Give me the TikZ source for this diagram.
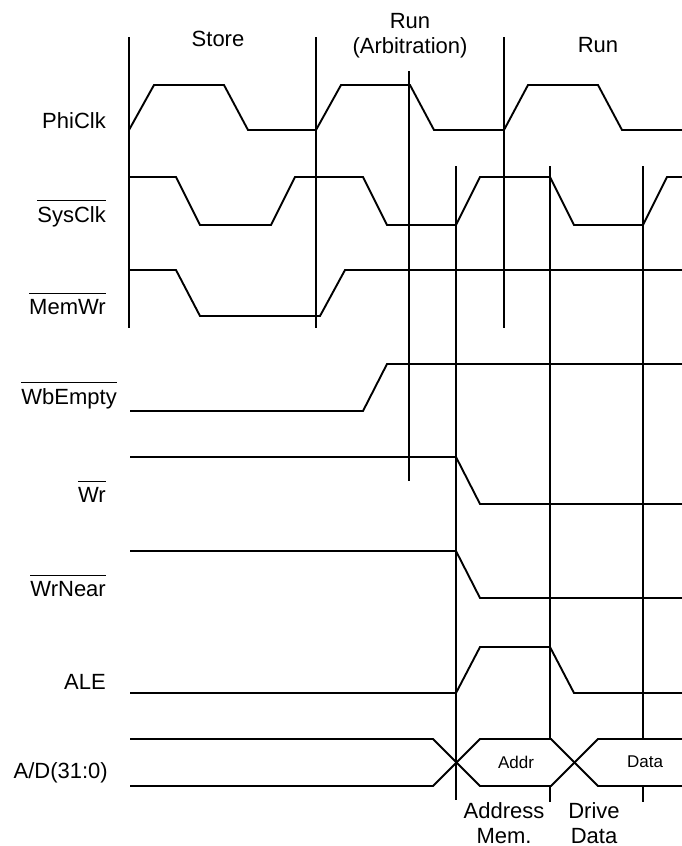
\documentclass[tikz,border=0pt]{standalone}
\usepackage{fontspec}
\setmainfont{Liberation Sans}
\usetikzlibrary{calc}

\begin{document}
\begin{tikzpicture}[x=1pt, y=-1pt,
                    every node/.style={font=\fontsize{22}{25}\selectfont, inner sep=0pt},
                    siglbl/.style={anchor=base east},
                    phaselbl/.style={anchor=base, align=center},
                    buslbl/.style={font=\fontsize{17}{20}\selectfont},
                    wave/.style={line width=1.9pt},
                    phase/.style={line width=1.9pt},
                    bar/.style={line width=1.3pt}]
  \useasboundingbox (0,0) rectangle (682,846);

  % phase names
  \node[phaselbl] (hstore) at (218,46)  {Store};
  \node[phaselbl] (harb)   at (410,53)  {Run\\(Arbitration)};
  \node[phaselbl] (hrun)   at (598,52)  {Run};

  % signal names
  \node[siglbl] (lphi) at (106,128) {PhiClk};
  \node[siglbl] (lsys) at (106,222) {SysClk};
  \node[siglbl] (lmem) at (106,314) {MemWr};
  \node[siglbl] (lwbe) at (117,404) {WbEmpty};
  \node[siglbl] (lwr)  at (106,502) {Wr};
  \node[siglbl] (lwrn) at (106,596) {WrNear};
  \node[siglbl] (lale) at (106,689) {ALE};
  \node[siglbl] (lad)  at (108,778) {A/D(31:0)};
  \foreach \n in {lsys, lmem, lwbe, lwr, lwrn}
    \draw[bar] ([yshift=5.5pt]\n.north west) -- ([yshift=5.5pt]\n.north east);

  % phase boundaries and sampling edges
  \foreach \x in {129, 316, 504}
    \draw[phase] (\x,37) -- (\x,328);
  \draw[phase] (409,71) -- (409,481);
  \draw[phase] (456,166) -- (456,800);
  \foreach \x in {550, 643} {
    \draw[phase] (\x,166) -- (\x,739);
    \draw[phase] (\x,786) -- (\x,802);
  }

  % waveforms
  \draw[wave] (129,130) -- (154,85) -- (224,85) -- (248,130) -- (316,130) -- (341,85)
    -- (410,85) -- (434,130) -- (504,130) -- (528,85) -- (598,85) -- (622,130) -- (682,130);
  \draw[wave] (129,177) -- (176,177) -- (200,225) -- (271,225) -- (295,177) -- (363,177)
    -- (387,225) -- (456,225) -- (480,177) -- (550,177) -- (574,225) -- (643,225)
    -- (667,177) -- (682,177);
  \draw[wave] (129,270) -- (176,270) -- (200,316) -- (320,316) -- (345,270) -- (682,270);
  \draw[wave] (130,411) -- (363,411) -- (387,364) -- (682,364);
  \draw[wave] (130,457) -- (456,457) -- (480,504) -- (682,504);
  \draw[wave] (130,551) -- (456,551) -- (480,598) -- (682,598);
  \draw[wave] (130,693) -- (456,693) -- (480,647) -- (550,647) -- (574,693) -- (682,693);

  % multiplexed bus
  \draw[wave] (130,739) -- (433,739) -- (480,786) -- (551,786) -- (598,739) -- (682,739);
  \draw[wave] (130,786) -- (433,786) -- (480,739) -- (551,739) -- (598,786) -- (682,786);
  \node[buslbl] (taddr) at (516,762) {Addr};
  \node[buslbl] (tdata) at (645,762) {Data};

  % bus phases
  \node[phaselbl] (haddr)  at (504,843) {Address\\Mem.};
  \node[phaselbl] (hdrive) at (594,843) {Drive\\Data};
\end{tikzpicture}
\end{document}
